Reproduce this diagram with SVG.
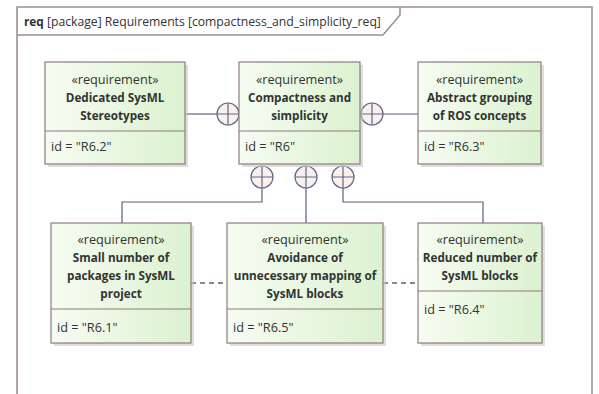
<svg xmlns="http://www.w3.org/2000/svg" width="599" height="394" viewBox="0 0 599 394">
  <defs>
    <linearGradient id="reqFill" x1="0" y1="0" x2="1" y2="0">
      <stop offset="0" stop-color="#f6fcf2"/>
      <stop offset="1" stop-color="#dcf2d0"/>
    </linearGradient>
    <style>
      .frame { fill: none; stroke: #9e9090; stroke-width: 1.6; }
      .shadow { fill: #c8c8c8; opacity: 0.6; }
      .box { fill: url(#reqFill); stroke: #8f7b7b; stroke-width: 1.2; }
      .sep { stroke: #8f7b7b; stroke-width: 1.2; }
      .conn { fill: none; stroke: #56627e; stroke-width: 1.2; }
      .dash { fill: none; stroke: #56627e; stroke-width: 1.3; stroke-dasharray: 5 4; }
      .cont { fill: #fbf0ee; stroke: #5e6888; stroke-width: 1.2; }
      text { font-family: "Open Sans", "Noto Sans", "DejaVu Sans", sans-serif; fill: #333333; font-size: 12.7px; }
      .hd { font-size: 12.2px; }
      .st { text-anchor: middle; }
      .nm { text-anchor: middle; font-weight: bold; font-size: 11.7px; }
    </style>
  </defs>

  <rect width="599" height="394" fill="#ffffff"/>

  <!-- diagram frame -->
  <g id="frame">
    <path class="frame" d="M17,400 V7 H592 V400"/>
    <path class="frame" d="M17,35 H383 L400,15 V7"/>
    <text class="hd" x="24" y="26"><tspan font-weight="bold" font-size="11.8px">req</tspan> [package] Requirements [compactness_and_simplicity_req]</text>
  </g>

  <!-- connectors -->
  <g id="connectors">
    <line class="conn" x1="185" y1="114" x2="217" y2="114"/>
    <line class="conn" x1="383" y1="114" x2="418" y2="114"/>
    <polyline class="conn" points="262,188 262,202 122,202 122,223"/>
    <line class="conn" x1="306" y1="188" x2="306" y2="223"/>
    <polyline class="conn" points="343,188 343,202 483,202 483,223"/>
    <line class="dash" x1="191" y1="283" x2="227" y2="283"/>
    <line class="dash" x1="383" y1="283" x2="418" y2="283"/>
    <!-- containment markers -->
    <g class="cont">
      <circle cx="228" cy="114" r="11"/>
      <path d="M217,114 H239 M228,103 V125"/>
      <circle cx="372" cy="114" r="11"/>
      <path d="M361,114 H383 M372,103 V125"/>
      <circle cx="262" cy="177" r="11"/>
      <path d="M251,177 H273 M262,166 V188"/>
      <circle cx="306" cy="177" r="11"/>
      <path d="M295,177 H317 M306,166 V188"/>
      <circle cx="343" cy="177" r="11"/>
      <path d="M332,177 H354 M343,166 V188"/>
    </g>
  </g>

  <g id="r6_2">
    <rect class="shadow" x="48" y="65" width="140" height="102"/>
    <rect class="box" x="45" y="62" width="140" height="102"/>
    <line class="sep" x1="45" y1="131" x2="185" y2="131"/>
    <text class="st" x="115" y="84">«requirement»</text>
    <text class="nm" x="115" y="102">Dedicated SysML</text>
    <text class="nm" x="115" y="120">Stereotypes</text>
    <text x="51" y="151">id = "R6.2"</text>
  </g>

  <g id="r6">
    <rect class="shadow" x="242" y="65" width="121" height="102"/>
    <rect class="box" x="239" y="62" width="121" height="102"/>
    <line class="sep" x1="239" y1="131" x2="360" y2="131"/>
    <text class="st" x="299.5" y="84">«requirement»</text>
    <text class="nm" x="299.5" y="102">Compactness and</text>
    <text class="nm" x="299.5" y="120">simplicity</text>
    <text x="245" y="151">id = "R6"</text>
  </g>

  <g id="r6_3">
    <rect class="shadow" x="421" y="65" width="123" height="102"/>
    <rect class="box" x="418" y="62" width="123" height="102"/>
    <line class="sep" x1="418" y1="131" x2="541" y2="131"/>
    <text class="st" x="479.5" y="84">«requirement»</text>
    <text class="nm" x="479.5" y="102">Abstract grouping</text>
    <text class="nm" x="479.5" y="120">of ROS concepts</text>
    <text x="424" y="151">id = "R6.3"</text>
  </g>

  <g id="r6_1">
    <rect class="shadow" x="54" y="226" width="140" height="120"/>
    <rect class="box" x="51" y="223" width="140" height="120"/>
    <line class="sep" x1="51" y1="309" x2="191" y2="309"/>
    <text class="st" x="121" y="244">«requirement»</text>
    <text class="nm" x="121" y="262">Small number of</text>
    <text class="nm" x="121" y="280">packages in SysML</text>
    <text class="nm" x="121" y="298">project</text>
    <text x="57" y="332">id = "R6.1"</text>
  </g>

  <g id="r6_5">
    <rect class="shadow" x="230" y="226" width="156" height="120"/>
    <rect class="box" x="227" y="223" width="156" height="120"/>
    <line class="sep" x1="227" y1="309" x2="383" y2="309"/>
    <text class="st" x="305" y="244">«requirement»</text>
    <text class="nm" x="305" y="262">Avoidance of</text>
    <text class="nm" x="305" y="280">unnecessary mapping of</text>
    <text class="nm" x="305" y="298">SysML blocks</text>
    <text x="233" y="332">id = "R6.5"</text>
  </g>

  <g id="r6_4">
    <rect class="shadow" x="421" y="226" width="124" height="120"/>
    <rect class="box" x="418" y="223" width="124" height="120"/>
    <line class="sep" x1="418" y1="291" x2="542" y2="291"/>
    <text class="st" x="480" y="244">«requirement»</text>
    <text class="nm" x="480" y="262">Reduced number of</text>
    <text class="nm" x="480" y="280">SysML blocks</text>
    <text x="424" y="314">id = "R6.4"</text>
  </g>
</svg>
